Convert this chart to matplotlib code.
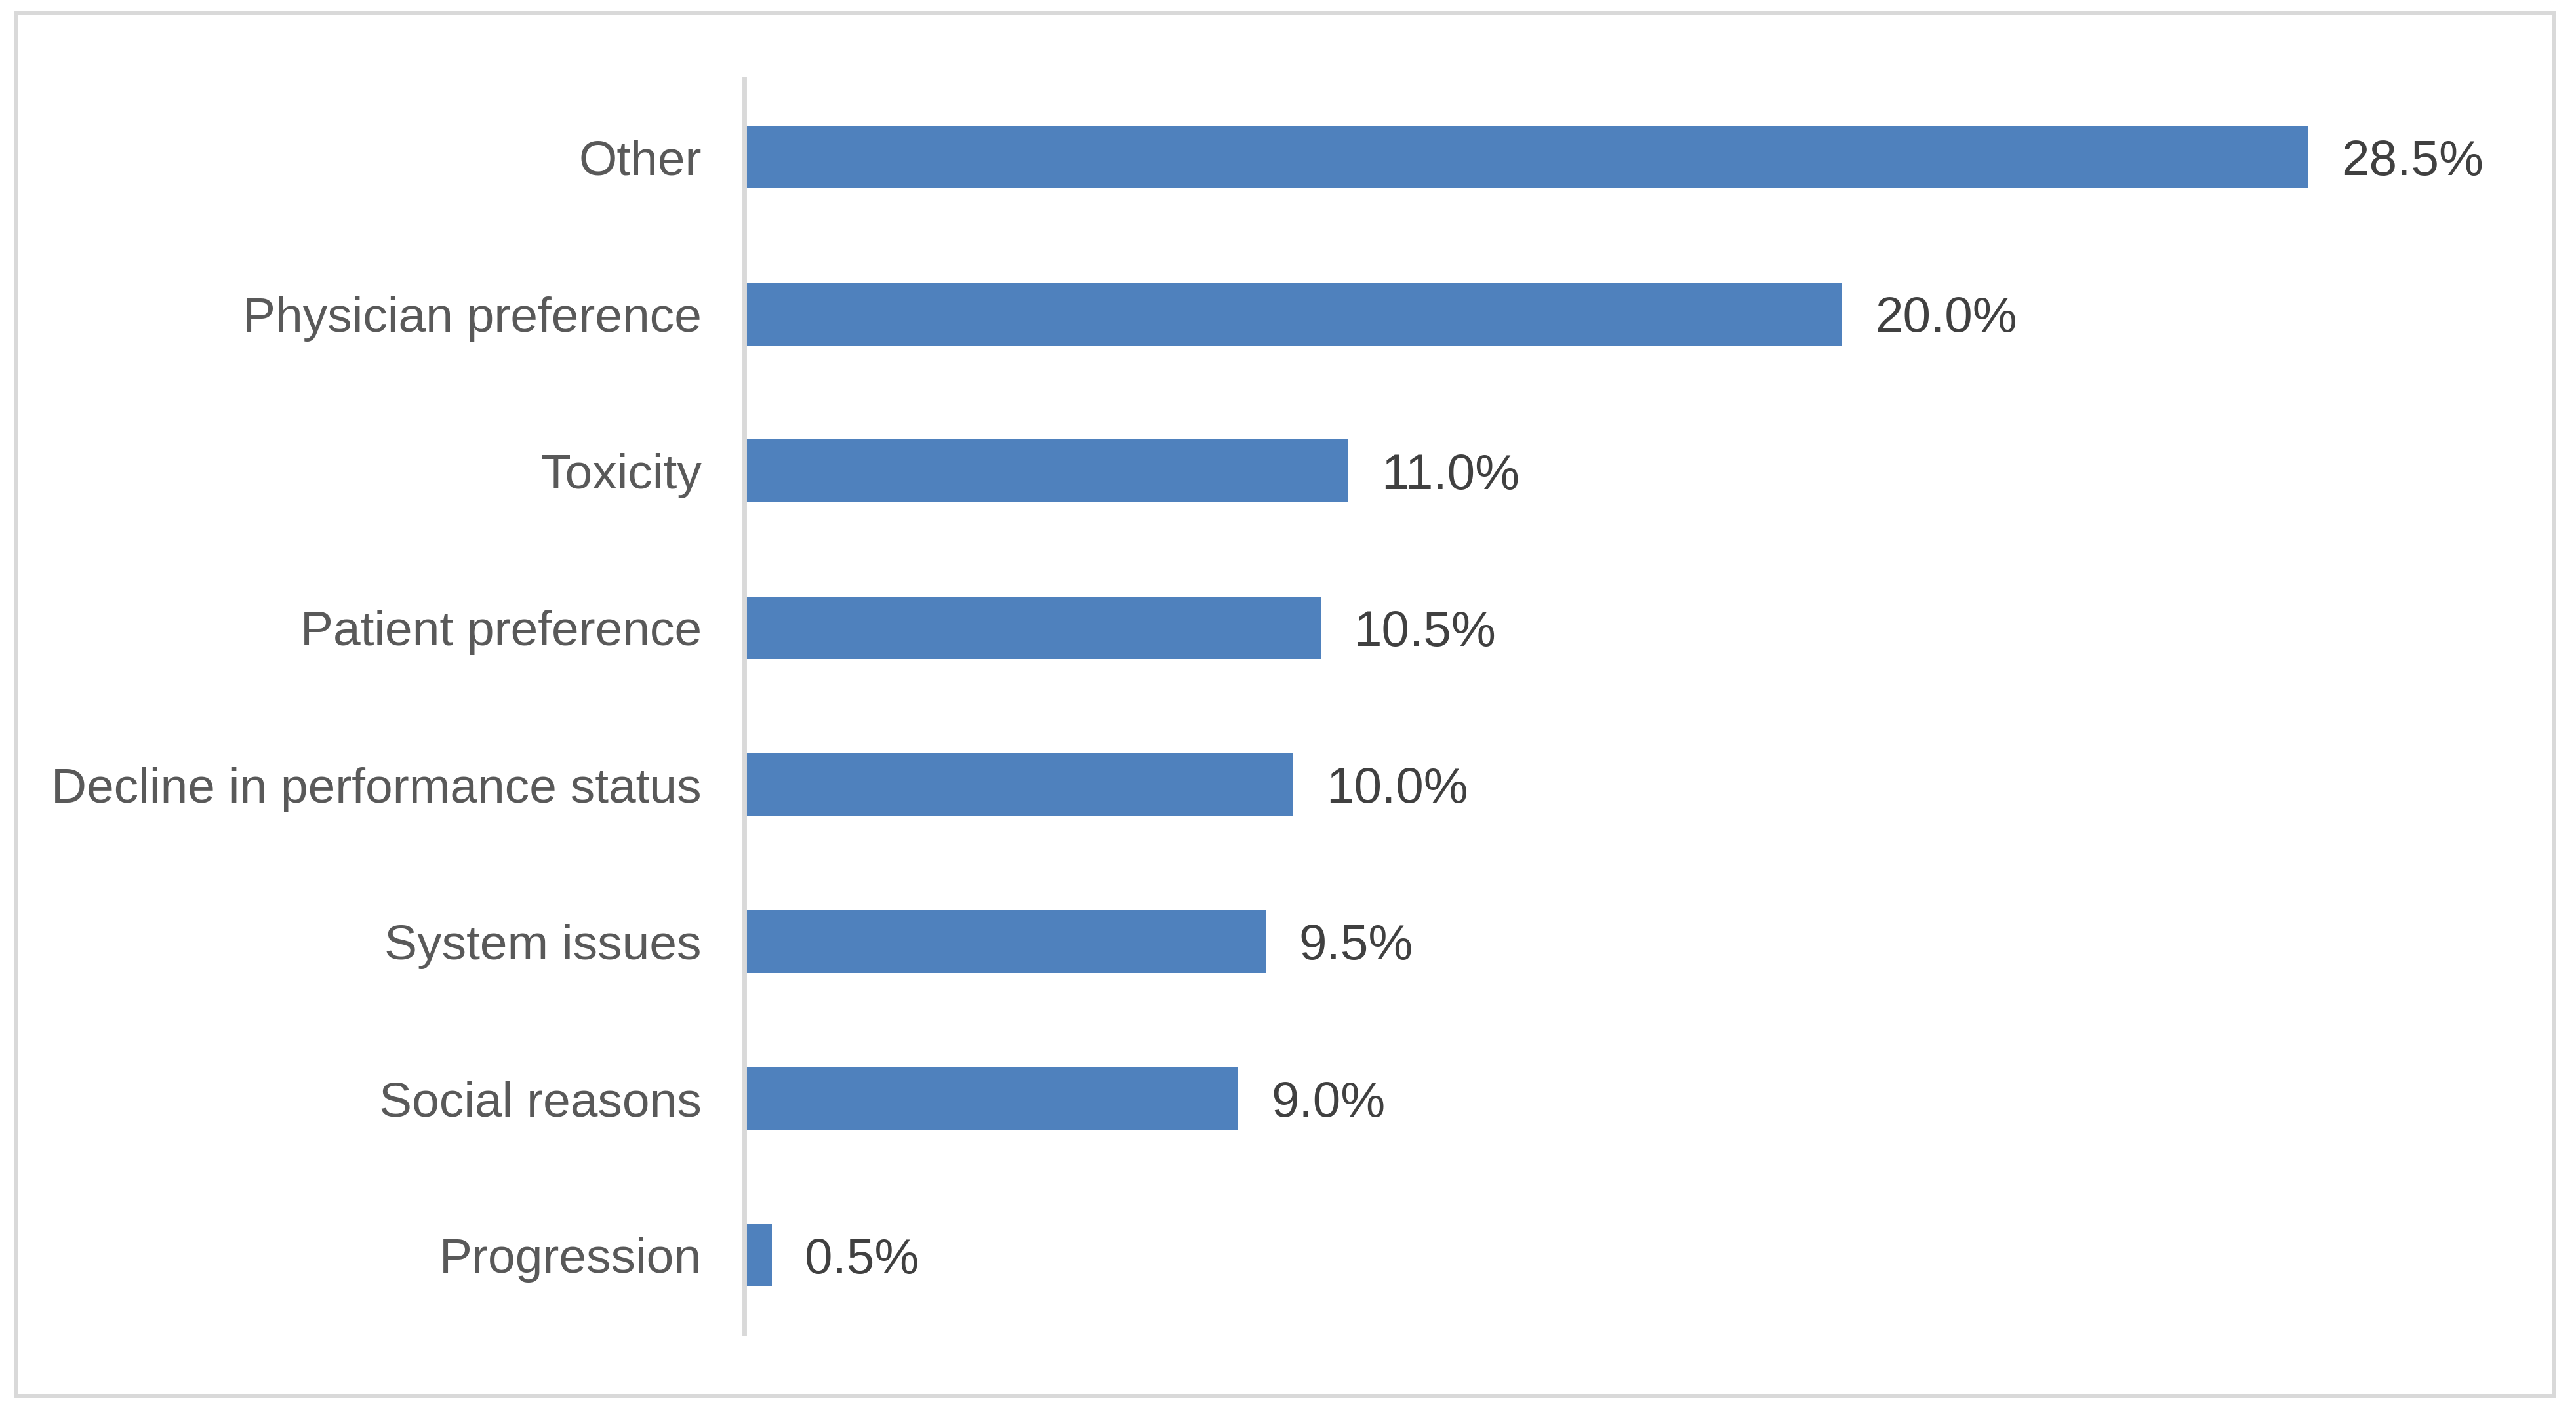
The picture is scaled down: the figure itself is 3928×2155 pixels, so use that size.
import matplotlib.pyplot as plt
from matplotlib.patches import Rectangle

categories = ['Other', 'Physician preference', 'Toxicity', 'Patient preference',
              'Decline in performance status', 'System issues', 'Social reasons', 'Progression']
values = [28.5, 20.0, 11.0, 10.5, 10.0, 9.5, 9.0, 0.5]

W, H = 3928, 2155
plt.rcParams['font.family'] = ['Liberation Sans', 'DejaVu Sans']

fig = plt.figure(figsize=(W / 100, H / 100), dpi=100)

# axes placed in pixel terms
x0, x1 = 1135, 3850
y_top, y_bot = 120, 2034
ax = fig.add_axes([x0 / W, 1 - y_bot / H, (x1 - x0) / W, (y_bot - y_top) / H])

px_per_pct = 83.7
ax.set_xlim(0, (x1 - x0) / px_per_pct)
ax.set_ylim(len(categories) - 0.5, -0.5)

ypos = range(len(categories))
ax.barh(ypos, values, height=0.4, color='#4f81bd', zorder=2)

for y, v in zip(ypos, values):
    ax.annotate('{:.1f}%'.format(v), xy=(v, y), xytext=(36, 0), textcoords='offset points',
                va='center_baseline', ha='left', fontsize=55, color='#404040')

ax.set_yticks(list(ypos))
ax.set_yticklabels(categories, fontsize=54, color='#595959')
ax.tick_params(axis='y', length=0, pad=47)
ax.set_xticks([])

for s in ['top', 'right', 'bottom']:
    ax.spines[s].set_visible(False)
ax.spines['left'].set_color('#d9d9d9')
ax.spines['left'].set_linewidth(5)

# outer chart border
fig.patches.append(Rectangle((25 / W, 1 - 2129 / H), (3895 - 25) / W, (2129 - 20) / H,
                             transform=fig.transFigure, fill=False,
                             edgecolor='#d9d9d9', linewidth=4.3))

fig.savefig('out.png', dpi=100, facecolor='white')
